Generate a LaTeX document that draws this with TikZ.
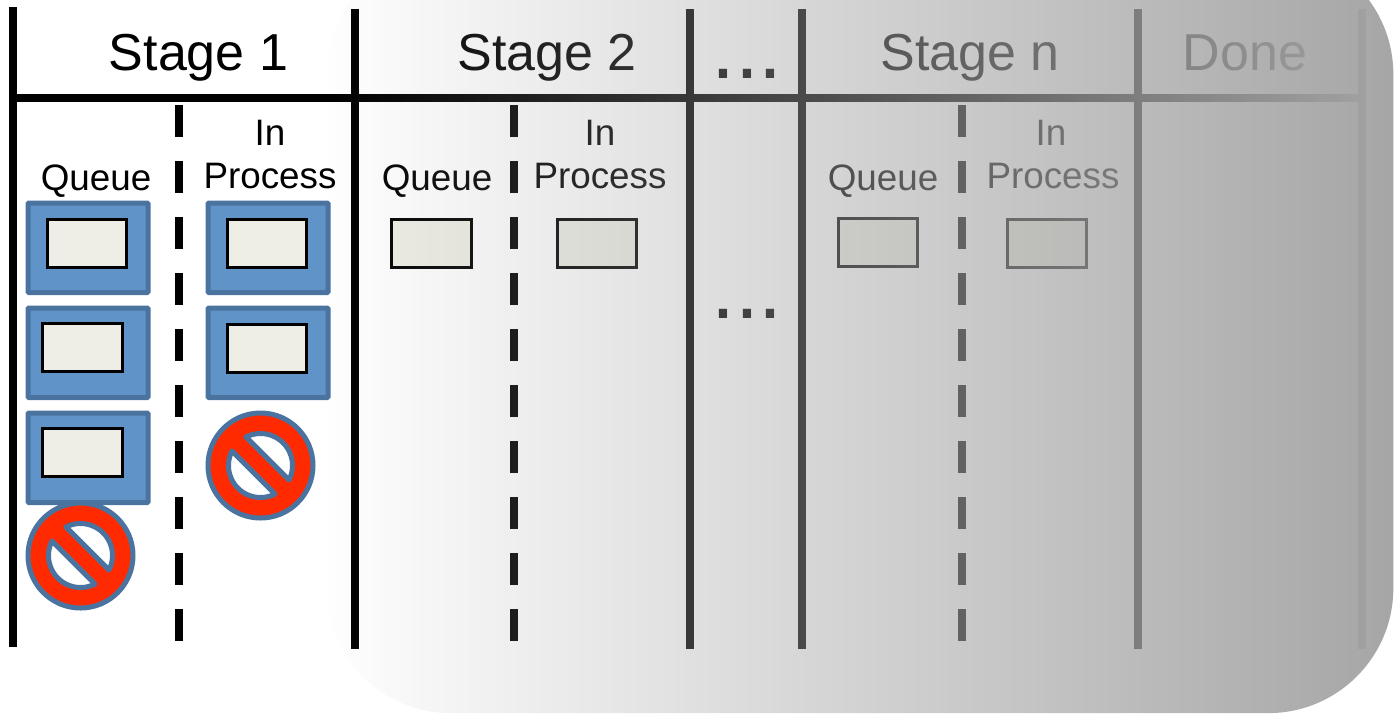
\documentclass[tikz,border=0pt]{standalone}
\usepackage{fontspec}
\setmainfont{Liberation Sans}
\usetikzlibrary{fadings}
\tikzfading[name=overlayfade, left color=transparent!100, right color=transparent!0]
\definecolor{cardfill}{HTML}{EEEEE6}
\definecolor{boxfill}{HTML}{6094C8}
\definecolor{boxedge}{HTML}{4A73A0}
\definecolor{signred}{HTML}{FF2A00}
\tikzset{
  solidrule/.style={line width=4pt,black},
  dashrule/.style={line width=4pt,black,dash pattern=on 16pt off 12pt},
  bluebox/.style={draw=boxedge,fill=boxfill,line width=2.5pt,rounded corners=0.5pt},
  cardbox/.style={draw=black,fill=cardfill,line width=1.5pt},
  stagelabel/.style={font=\fontsize{26pt}{30pt}\selectfont,text=black,inner sep=0pt,anchor=base},
  sublabel/.style={font=\fontsize{18.4pt}{22pt}\selectfont,text=black,inner sep=0pt,anchor=base},
  dotslabel/.style={font=\fontsize{43pt}{50pt}\selectfont,text=black,inner sep=0pt,anchor=base}
}
\newcommand{\nosign}[3]{%
  \begin{scope}[shift={(#1,#2)},x=0.5pt,y=0.5pt]
    \node[circle,draw=boxedge,fill=signred,line width=2.5pt,minimum size=52.5pt,inner sep=0pt] (#3) at (0,0) {};
    \filldraw[fill=white,draw=boxedge,line width=2.5pt,line join=round]
      (-27:32) arc[start angle=-27,end angle=117,radius=32] -- cycle;
    \filldraw[fill=white,draw=boxedge,line width=2.5pt,line join=round]
      (153:32) arc[start angle=153,end angle=297,radius=32] -- cycle;
  \end{scope}}
\begin{document}
\begin{tikzpicture}[x=0.5pt,y=-0.5pt]
\useasboundingbox (0,0) rectangle (1397,713);
\clip (0,0) rectangle (1397,713);
\fill[white] (0,0) rectangle (1397,713);
% rules
\draw[solidrule] (13,7) -- (13,647);
\foreach \x in {355,690,802,1138,1362} \draw[solidrule] (\x,9) -- (\x,649);
\draw[solidrule] (13,98) -- (1358,98);
\foreach \x in {179,514,962} \draw[dashrule] (\x,105) -- (\x,641);
% headings
\node[stagelabel] (s1) at (198.5,70) {Stage 1};
\node[stagelabel] (s2) at (547,70) {Stage 2};
\node[stagelabel] (sn) at (970,70) {Stage n};
\node[stagelabel] (dn) at (1245,70) {Done};
\node[dotslabel] (d1) at (747,78) {...};
\node[dotslabel] (d2) at (747,318) {...};
% sublabels
\foreach \n/\qx/\ix/\px in {a/96/270/270,b/437/600/600,c/883/1051/1053}{
  \node[sublabel] (q\n) at (\qx,190) {Queue};
  \node[sublabel] (i\n) at (\ix,145) {In};
  \node[sublabel] (p\n) at (\px,188) {Process};
}
% blue boxes and cards
\draw[bluebox] (28,203) rectangle (148,292.5);
\draw[bluebox] (28,308) rectangle (148,397.5);
\draw[bluebox] (28,413) rectangle (148,502.5);
\draw[bluebox] (208,203) rectangle (328,292.5);
\draw[bluebox] (208,308) rectangle (328,397.5);
\draw[cardbox] (47,219.5) rectangle (126.5,267);
\draw[cardbox] (42,323.5) rectangle (122.5,371);
\draw[cardbox] (42,428) rectangle (122.5,476);
\draw[cardbox] (227,219.5) rectangle (306.5,267);
\draw[cardbox] (227,324.5) rectangle (306.5,372);
\draw[cardbox] (391.5,219.5) rectangle (471.5,267.5);
\draw[cardbox] (557,219.5) rectangle (636.5,267.5);
\draw[cardbox] (838,218.5) rectangle (917.5,266.5);
\draw[cardbox] (1007,219.5) rectangle (1086.5,267.5);
% signs
\nosign{80.5}{555.5}{signa}
\nosign{260.5}{465.5}{signb}
% overlay
\fill[black!35,path fading=overlayfade,fit fading=true,rounded corners=62.5pt]
  (326,-51) rectangle (1393,713);
\end{tikzpicture}
\end{document}
